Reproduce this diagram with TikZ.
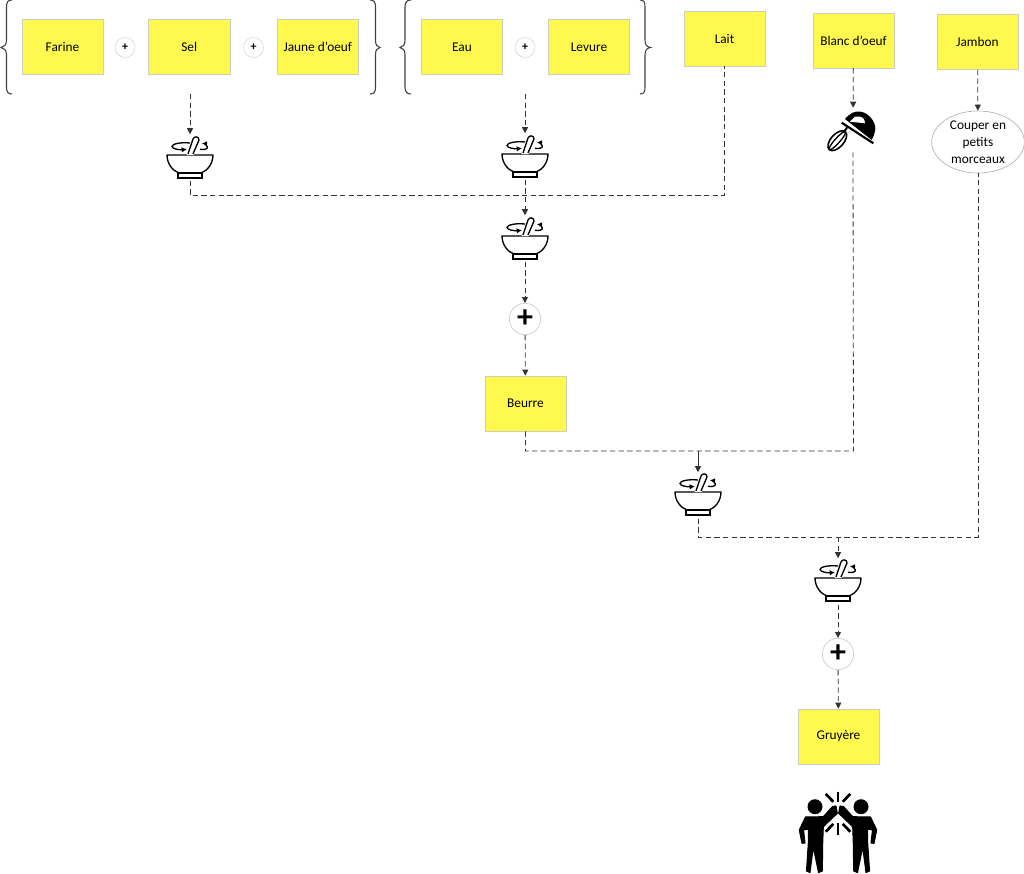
\documentclass[tikz,border=0pt]{standalone}
\usepackage{fontspec}
\setmainfont{Carlito}
\usetikzlibrary{arrows.meta,shapes.geometric}
\definecolor{postit}{HTML}{FFF84F}
\definecolor{postline}{HTML}{CFCFB8}
\tikzset{
  postit/.style={draw=postline,fill=postit,line width=0.5pt,minimum width=61pt,minimum height=41.25pt,inner sep=0pt,align=center,font=\fontsize{10}{12}\selectfont},
  plussmall/.style={circle,draw=black!15,line width=0.5pt,minimum size=15pt,inner sep=0pt,font=\fontsize{9}{9}\selectfont\bfseries},
  plusbig/.style={circle,draw=black!20,line width=0.5pt,minimum size=23.5pt,inner sep=0pt},
  cutnode/.style={ellipse,draw=black!30,line width=0.5pt,minimum width=69.5pt,minimum height=46.5pt,inner xsep=-6pt,inner ysep=-8pt,align=center,font=\fontsize{10}{12.75}\selectfont},
  iconbox/.style={minimum width=34.5pt,minimum height=34.5pt,inner sep=0pt},
  flow/.style={draw=black!80,line width=0.6pt,dash pattern=on 4pt off 2.5pt},
  flowto/.style={flow,-{Triangle[width=4.5pt,length=4.5pt]}},
  curly/.style={draw=black!75,line width=0.8pt},
  every pic/.style={yscale=-1},
  pics/bowl/.style={code={
    \draw[line width=1pt,-{Latex[length=4pt,width=4pt]}] (0,-15) .. controls (-10,-16) and (-18,-14) .. (-18,-11.5) .. controls (-18,-9) and (-10,-8) .. (-3,-8.7);
    \draw[line width=1pt,-{Latex[length=4pt,width=4pt]}] (10,-8.7) .. controls (14,-8) and (18,-9) .. (17.3,-11) .. controls (17,-13) and (14,-14.5) .. (11.7,-14.7);
    \draw[line width=1pt,line join=round] (-23,-3) -- (23,-3) .. controls (23,6) and (17,13) .. (11,15) -- (-11,15) .. controls (-17,13) and (-23,6) .. (-23,-3) -- cycle;
    \draw[line width=1pt] (-12,15) rectangle (12,20);
    \draw[fill=white,draw=white,line width=1.6pt] (-2,-4) -- (3,-19) .. controls (4,-22) and (9,-22) .. (9,-18) -- (3,-4) -- cycle;
    \draw[line width=1pt,line join=round] (-2,-4) -- (3,-19) .. controls (4,-22) and (9,-22) .. (9,-18) -- (3,-4);
  }},
  pics/mixer/.style={code={
    \fill (-8,-9) .. controls (-3,-15) and (2,-17) .. (7,-16.5) .. controls (17,-15) and (24,-4) .. (22,3) .. controls (21.5,6) and (20.5,9) .. (18.7,12) -- cycle;
    \fill[white] (-3,-6.3) -- (2,-11.3) .. controls (5,-12) and (9,-11) .. (10.3,-9.7) .. controls (11.5,-8) and (12,-6) .. (12,-4.7) -- cycle;
    \draw[line width=1.6pt] (-11.3,-5.3) -- (20.3,15.3);
    \draw[line width=1.5pt] (-9,4) -- (-5,-2);
    \draw[line width=1.2pt] (-15.7,12.7) circle [x radius=12,y radius=6.5,rotate=-48];
    \draw[line width=1pt] (-15.7,12.7) circle [x radius=12,y radius=2.5,rotate=-48];
  }},
  pics/mate/.style={code={
    \fill (-7.5-15.5,-28.3) circle [radius=7.5];
    \draw[fill,line width=0.8pt,line join=round] (-32.5,-18) -- (-14.7,-18.3) -- (-5.5,-28.5) -- (-2,-29) -- (-0.7,-21.7) -- (-14.7,-8.3) -- (-15.3,8.3) -- (-15.7,36) -- (-19.5,37.5) -- (-24.7,12) -- (-28,37.5) -- (-31.5,36) -- (-29.7,8.3) -- (-29.7,-6) -- (-34.5,-5) -- (-33,8) -- (-36,8.3) -- (-38.7,-5) -- cycle;
    \draw[line width=2pt] (-12.3,-41) -- (-4.7,-33.3);
    \draw[line width=2pt] (-12.3,-3.3) -- (-4.7,-11);
  }}
}
\begin{document}
\begin{tikzpicture}[x=0.75pt,y=0.75pt,yscale=-1,xscale=1]
\useasboundingbox (0,0) rectangle (1024,874);

% Ingredients
\node [postit] (farine) at (62.5,47) {Farine};
\node [postit] (sel) at (189.2,47) {Sel};
\node [postit] (jaune) at (317.8,47) {Jaune d’oeuf};
\node [postit] (eau) at (462,47) {Eau};
\node [postit] (levure) at (589,47) {Levure};
\node [postit] (lait) at (724.5,38.5) {Lait};
\node [postit] (blanc) at (853.5,40.5) {Blanc d’oeuf};
\node [postit] (jambon) at (977.5,42) {Jambon};
\node [postit] (beurre) at (525.5,403.5) {Beurre};
\node [postit] (gruyere) at (838.5,736.5) {Gruyère};

% Plus signs
\node [plussmall] (plusA) at (125,47.5) {+};
\node [plussmall] (plusB) at (253.5,47.5) {+};
\node [plussmall] (plusC) at (525,47.5) {+};
\node [plusbig] (plusD) at (525,319) {\fontsize{24}{24}\selectfont\bfseries +};
\node [plusbig] (plusE) at (838,654) {\fontsize{24}{24}\selectfont\bfseries +};

% Cut step
\node [cutnode] (couper) at (978,142) {Couper en\\petits\\morceaux};

% Icons
\node [iconbox] (bowlA) at (190,157.5) {};
\node [iconbox] (bowlB) at (525,156.5) {};
\node [iconbox] (bowlC) at (525,238.5) {};
\node [iconbox] (bowlD) at (698,495.5) {};
\node [iconbox] (bowlE) at (838,581.5) {};
\node [iconbox,minimum width=40pt,minimum height=33pt] (mixer) at (853,130) {};
\node [iconbox,minimum width=60pt,minimum height=66pt] (mates) at (838,835) {};
\pic at (190,158) {bowl};
\pic at (525,157) {bowl};
\pic at (525,239) {bowl};
\pic at (698,495) {bowl};
\pic at (838,581) {bowl};
\pic at (853,128) {mixer};
\pic at (838,835) {mate};
\pic [xscale=-1] at (838,835) {mate};
\draw [line width=2pt] (838,791.7) -- (838,801.7);
\draw [line width=2pt] (838,823.3) -- (838,835);

%Braces
\draw [curly] (12,0) .. controls (8,0) and (6.5,2) .. (6.5,7) -- (6.5,40) .. controls (6.5,45) and (4,47) .. (1,47.5) .. controls (4,48) and (6.5,50) .. (6.5,55) -- (6.5,87) .. controls (6.5,92) and (8,94) .. (12,94);
\draw [curly] (370,0) .. controls (374,0) and (375.5,2) .. (375.5,7) -- (375.5,40) .. controls (375.5,45) and (377,47) .. (380,47.5) .. controls (377,48) and (375.5,50) .. (375.5,55) -- (375.5,87) .. controls (375.5,92) and (374,94) .. (370,94);
\draw [curly] (411,0) .. controls (407,0) and (405,2) .. (405,7) -- (405,40) .. controls (405,45) and (403,47) .. (400,47.5) .. controls (403,48) and (405,50) .. (405,55) -- (405,87) .. controls (405,92) and (407,94) .. (411,94);
\draw [curly] (640,0) .. controls (644,0) and (645,2) .. (645,7) -- (645,40) .. controls (645,45) and (647,47) .. (650.5,47.5) .. controls (647,48) and (645,50) .. (645,55) -- (645,87) .. controls (645,92) and (644,94) .. (640,94);

%Free ends
\coordinate (startA) at (190,94);
\coordinate (startB) at (525,94);
\coordinate (jointA) at (724.5,195.4);
\coordinate (jointC) at (853.5,451);
\coordinate (jointD) at (698,451);
\coordinate (jointE) at (978,537);
\coordinate (jointF) at (838,537);

%Straight Lines
\draw [flowto] (startA) -- (bowlA);
\draw [flowto] (startB) -- (bowlB);
\draw [flow] (bowlA.south) |- (jointA) -- (lait.south);
\draw [flowto] (bowlB) -- (bowlC);
\draw [flowto] (bowlC) -- (plusD);
\draw [flowto] (plusD) -- (beurre);
\draw [flowto] (blanc) -- (mixer);
\draw [flowto] (jambon) -- (couper);
\draw [flow] (beurre.south) |- (jointC) -- (mixer.south);
\draw [-{Triangle[width=4.5pt,length=4.5pt]},draw=black!80,line width=0.6pt] (jointD) -- (bowlD);
\draw [flow] (bowlD.south) |- (jointE) -- (couper.south);
\draw [flowto] (jointF) -- (bowlE);
\draw [flowto] (bowlE) -- (plusE);
\draw [flowto] (plusE) -- (gruyere);

\end{tikzpicture}
\end{document}
